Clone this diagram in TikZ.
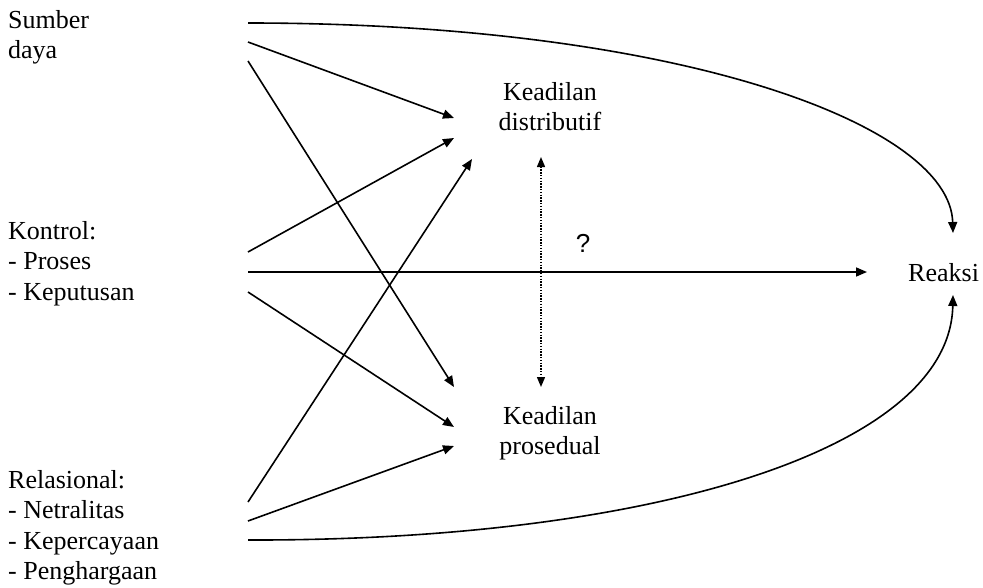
\documentclass[tikz,border=0pt]{standalone}
\usepackage{fontspec}
\setmainfont{Liberation Serif}
\newfontfamily\qfont{Liberation Sans}
\usetikzlibrary{arrows.meta}
\begin{document}
\begin{tikzpicture}[x=1pt,y=-1pt,
  txt/.style={inner sep=0pt,font=\fontsize{26}{30.5}\selectfont},
  arr/.style={line width=1.6pt,-{Triangle[length=11pt,width=9pt]}},
  dotarr/.style={line width=1.4pt,dash pattern=on 1.4pt off 1.4pt,{Triangle[length=10pt,width=8pt]}-{Triangle[length=10pt,width=8pt]}}]
\useasboundingbox (0,0) rectangle (983,587);
% text nodes
\node[txt,anchor=north west,align=left] (sumber) at (8,10) {Sumber\\daya};
\node[txt,anchor=north west,align=left] (kontrol) at (8,221) {Kontrol:\\- Proses\\- Keputusan};
\node[txt,anchor=north west,align=left] (relasional) at (8,470) {Relasional:\\- Netralitas\\- Kepercayaan\\- Penghargaan};
\node[txt,anchor=north,align=center] (dist) at (550,82) {Keadilan\\distributif};
\node[txt,anchor=north,align=center] (pros) at (550,406) {Keadilan\\prosedual};
\node[txt,anchor=base west] (reaksi) at (908,281) {Reaksi};
\node[txt,anchor=base,font=\fontsize{26}{30}\selectfont\qfont] (q) at (583,252) {?};
% connector ends
\coordinate (s1) at (248,23);
\coordinate (s2) at (248,42);
\coordinate (s3) at (248,61);
\coordinate (k1) at (248,252);
\coordinate (k2) at (248,272);
\coordinate (k3) at (248,292);
\coordinate (r1) at (248,502);
\coordinate (r2) at (248,521);
\coordinate (r3) at (248,540);
\coordinate (d1) at (454,118);
\coordinate (d2) at (454,138);
\coordinate (d3) at (472,159);
\coordinate (p1) at (454,387);
\coordinate (p2) at (454,427);
\coordinate (p3) at (454,446);
\coordinate (dtop) at (541,157);
\coordinate (dbot) at (541,387);
\coordinate (rtop) at (953,233);
\coordinate (rmid) at (867,272);
\coordinate (rbot) at (953,295);
% connectors
\draw[arr] (s1) .. controls (680,23) and (950,125) .. (rtop);
\draw[arr] (s2) -- (d1);
\draw[arr] (s3) -- (p1);
\draw[arr] (k1) -- (d2);
\draw[arr] (k2) -- (rmid);
\draw[arr] (k3) -- (p2);
\draw[arr] (r1) -- (d3);
\draw[arr] (r2) -- (p3);
\draw[arr] (r3) .. controls (650,541) and (950,450) .. (rbot);
\draw[dotarr] (dtop) -- (dbot);
\end{tikzpicture}
\end{document}
